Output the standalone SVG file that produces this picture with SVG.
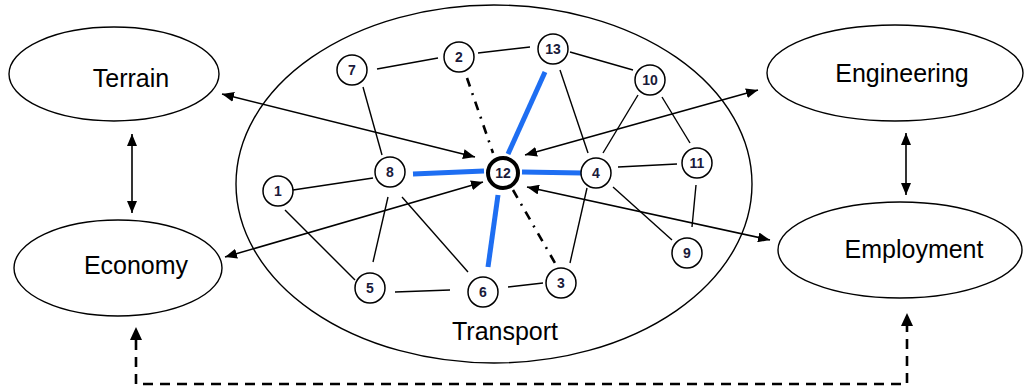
<svg xmlns="http://www.w3.org/2000/svg" width="1024" height="389" viewBox="0 0 1024 389">
  <style>
    .outer { fill: #fff; stroke: #000; stroke-width: 1.4; }
    .big { font-family: "Liberation Sans", Arial, sans-serif; font-size: 25px; fill: #000; text-anchor: middle; }
    .node circle { fill: #fff; stroke: #000; stroke-width: 1.5; }
    .node text { font-family: "Liberation Sans", Arial, sans-serif; font-size: 14px; font-weight: bold; fill: #1a1a3a; text-anchor: middle; }
    .edge { stroke: #000; stroke-width: 1.4; fill: none; }
    .blue { stroke: #1e6ef2; stroke-width: 5; fill: none; }
    .dashdot { stroke: #000; stroke-width: 2.6; fill: none; stroke-dasharray: 9 7 2 7; }
    .link { stroke: #000; stroke-width: 1.6; fill: none; marker-start: url(#ah); marker-end: url(#ah); }
    .dash { stroke: #000; stroke-width: 2.6; fill: none; stroke-dasharray: 10 7; }
  </style>
  <defs>
    <marker id="ah" viewBox="0 0 12 10" refX="12" refY="5" markerWidth="12" markerHeight="10" markerUnits="userSpaceOnUse" orient="auto-start-reverse">
      <path d="M0,0 L12,5 L0,10 Z" fill="#000"/>
    </marker>
  </defs>

  <rect width="1024" height="389" fill="#fff"/>

  <!-- Transport region -->
  <g id="transport">
    <ellipse class="outer" cx="494" cy="184" rx="258" ry="179"/>
    <text class="big" x="505" y="340">Transport</text>
  </g>

  <!-- Surrounding domains -->
  <g id="terrain">
    <ellipse class="outer" cx="114" cy="74" rx="105" ry="47"/>
    <text class="big" x="131" y="87">Terrain</text>
  </g>
  <g id="economy">
    <ellipse class="outer" cx="118" cy="268" rx="104" ry="48"/>
    <text class="big" x="136" y="274">Economy</text>
  </g>
  <g id="engineering">
    <ellipse class="outer" cx="895" cy="73" rx="128" ry="48"/>
    <text class="big" x="902" y="82">Engineering</text>
  </g>
  <g id="employment">
    <ellipse class="outer" cx="900" cy="250" rx="122" ry="48"/>
    <text class="big" x="914" y="258">Employment</text>
  </g>

  <!-- Connectors -->
  <g id="connectors">
    <!-- network links -->
    <line class="edge" x1="377" y1="69" x2="438" y2="58"/>
    <line class="edge" x1="478" y1="53" x2="530" y2="47"/>
    <line class="edge" x1="363" y1="87" x2="382" y2="155"/>
    <line class="edge" x1="293" y1="190" x2="373" y2="178"/>
    <line class="edge" x1="285" y1="210" x2="355" y2="280"/>
    <line class="edge" x1="388" y1="197" x2="373" y2="262"/>
    <line class="edge" x1="402" y1="197" x2="468" y2="272"/>
    <line class="edge" x1="395" y1="292" x2="450" y2="290"/>
    <line class="edge" x1="508" y1="287" x2="543" y2="283"/>
    <line class="edge" x1="570" y1="52" x2="633" y2="70"/>
    <line class="edge" x1="560" y1="70" x2="588" y2="153"/>
    <line class="edge" x1="638" y1="95" x2="603" y2="153"/>
    <line class="edge" x1="662" y1="97" x2="690" y2="143"/>
    <line class="edge" x1="618" y1="167" x2="677" y2="164"/>
    <line class="edge" x1="613" y1="187" x2="672" y2="240"/>
    <line class="edge" x1="587" y1="188" x2="570" y2="263"/>
    <line class="edge" x1="696" y1="185" x2="692" y2="227"/>

    <!-- dash-dot links -->
    <line class="dashdot" x1="467" y1="78" x2="493" y2="153"/>
    <line class="dashdot" x1="513" y1="190" x2="555" y2="263"/>

    <!-- highlighted links -->
    <line class="blue" x1="413" y1="174" x2="484" y2="171"/>
    <line class="blue" x1="545" y1="72" x2="508" y2="154"/>
    <line class="blue" x1="522" y1="172" x2="582" y2="173"/>
    <line class="blue" x1="498" y1="195" x2="488" y2="267"/>

    <!-- domain links -->
    <line class="link" x1="222" y1="94" x2="475" y2="157"/>
    <line class="link" x1="225" y1="257" x2="483" y2="182"/>
    <line class="link" x1="758" y1="90" x2="525" y2="155"/>
    <line class="link" x1="770" y1="240" x2="527" y2="187"/>
    <line class="link" x1="132" y1="134" x2="132" y2="213"/>
    <line class="link" x1="906" y1="133" x2="906" y2="195"/>

    <!-- feedback loop -->
    <path class="dash" d="M136,340 L136,384 L907,384 L907,326"/>
    <path d="M130,340 L136,327 L142,340 Z" fill="#000"/>
    <path d="M901,326 L907,313 L913,326 Z" fill="#000"/>
  </g>

  <!-- Network nodes -->
  <g id="n1" class="node"><circle cx="278" cy="191" r="15"/><text x="278" y="196">1</text></g>
  <g id="n2" class="node"><circle cx="459" cy="57" r="15"/><text x="459" y="62">2</text></g>
  <g id="n3" class="node"><circle cx="561" cy="283" r="15"/><text x="561" y="288">3</text></g>
  <g id="n4" class="node"><circle cx="596" cy="173" r="15"/><text x="596" y="178">4</text></g>
  <g id="n5" class="node"><circle cx="370" cy="288" r="15"/><text x="370" y="293">5</text></g>
  <g id="n6" class="node"><circle cx="483" cy="292" r="15"/><text x="483" y="297">6</text></g>
  <g id="n7" class="node"><circle cx="352" cy="70" r="15"/><text x="352" y="75">7</text></g>
  <g id="n8" class="node"><circle cx="390" cy="172" r="15"/><text x="390" y="177">8</text></g>
  <g id="n9" class="node"><circle cx="687" cy="253" r="15"/><text x="687" y="258">9</text></g>
  <g id="n10" class="node"><circle cx="650" cy="80" r="15"/><text x="650" y="85">10</text></g>
  <g id="n11" class="node"><circle cx="697" cy="163" r="15"/><text x="697" y="168">11</text></g>
  <g id="n12" class="node"><circle cx="503" cy="173" r="15" style="stroke-width:4"/><text x="503" y="178">12</text></g>
  <g id="n13" class="node"><circle cx="553" cy="49" r="15"/><text x="553" y="54">13</text></g>
</svg>
